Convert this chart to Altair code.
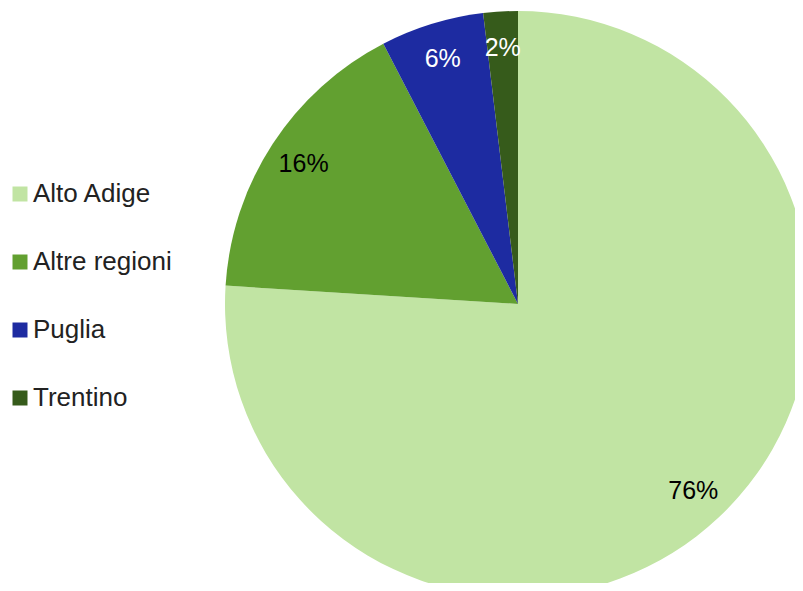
import altair as alt
import pandas as pd

regions = ["Alto Adige", "Altre regioni", "Puglia", "Trentino"]
shares = [76.0, 16.4, 5.7, 1.9]
labels = ["76%", "16%", "6%", "2%"]
colors = ["#c1e4a3", "#62a030", "#1d2ba1", "#365b1b"]
label_colors = ["#000000", "#000000", "#ffffff", "#ffffff"]

df = pd.DataFrame({
    "region": regions,
    "share": shares,
    "label": labels,
    "ord": list(range(len(regions))),
    "tcol": label_colors,
})

FONT = "Liberation Sans"

base = alt.Chart(df).encode(
    theta=alt.Theta("share:Q", stack=True),
    order=alt.Order("ord:Q"),
)

pie = base.mark_arc(radius=293, stroke=None).encode(
    x=alt.value(510),
    y=alt.value(296),
    color=alt.Color(
        "region:N",
        scale=alt.Scale(domain=regions, range=colors),
        legend=alt.Legend(
            title=None,
            orient="none",
            legendX=-1,
            legendY=173,
            symbolType="square",
            symbolSize=225,
            symbolStrokeWidth=0,
            labelFontSize=26,
            labelFont=FONT,
            labelColor="#222222",
            labelOffset=0,
            rowPadding=42,
            labelLimit=300,
        ),
    ),
)

text = base.mark_text(radius=256, fontSize=25, font=FONT).encode(
    x=alt.value(510),
    y=alt.value(296),
    text="label:N",
    color=alt.Color("tcol:N", scale=None),
)

chart = (
    alt.layer(pie, text)
    .properties(width=787, height=575, padding=0, autosize=alt.AutoSizeParams(type="none"))
    .configure_view(stroke=None)
)

chart.save("out.html", embed_options={"renderer": "svg", "actions": False})
